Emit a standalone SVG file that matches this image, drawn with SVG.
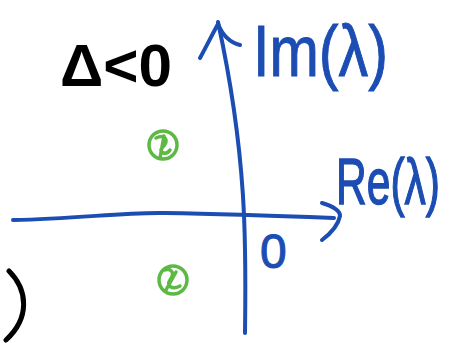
<svg xmlns="http://www.w3.org/2000/svg" width="457" height="343" viewBox="0 0 457 343">
<style>
.ax{fill:none;stroke:#1b4db3;stroke-width:4;stroke-linecap:round;stroke-linejoin:round}
.bl{fill:#1b4db3;stroke:#1b4db3;stroke-width:1;font-family:"Liberation Sans","DejaVu Sans",sans-serif}
.gr{fill:none;stroke:#5db844;stroke-width:3.5;stroke-linecap:round;stroke-linejoin:round}
.bk{fill:none;stroke:#000;stroke-width:5;stroke-linecap:round}
</style>
<rect width="457" height="343" fill="#fff"/>
<g id="axes">
<path class="ax" d="M13,220 C80,219 120,212 165,213 C220,214 280,216 334,218"/>
<path class="ax" d="M322,203 C332,206 340,210 340,216 C338,226 330,234 322,240"/>
<path class="ax" d="M245,333 C246,250 248,160 218,22"/>
<path class="ax" d="M200,58 C207,45 212,35 218,24 C222,34 228,42 240,45"/>
</g>
<g id="labels">
<text x="60" y="86" font-family="Liberation Sans,DejaVu Sans,sans-serif" font-weight="bold" font-size="60" textLength="112" lengthAdjust="spacingAndGlyphs">Δ&lt;0</text>
<text class="bl" x="253" y="76" font-size="72" textLength="135" lengthAdjust="spacingAndGlyphs">Im(λ)</text>
<text class="bl" x="0" y="0" font-size="46" stroke-width="0.8" textLength="104" lengthAdjust="spacingAndGlyphs" transform="translate(336,204) scale(1,1.39)">Re(λ)</text>
<text class="bl" x="260" y="268" font-size="48">0</text>
</g>
<g id="roots">
<circle class="gr" cx="163" cy="145" r="14"/>
<path class="gr" d="M156,138 C165,134 170,140 162,148 C158,152 166,156 170,150 M160,158 L164,136"/>
<circle class="gr" cx="173" cy="280" r="14"/>
<path class="gr" d="M165,270 C170,268 176,272 170,280 C166,286 172,290 180,286 M166,290 L176,272"/>
</g>
<path class="bk" d="M9,271 C28,290 30,318 6,340"/>
</svg>
